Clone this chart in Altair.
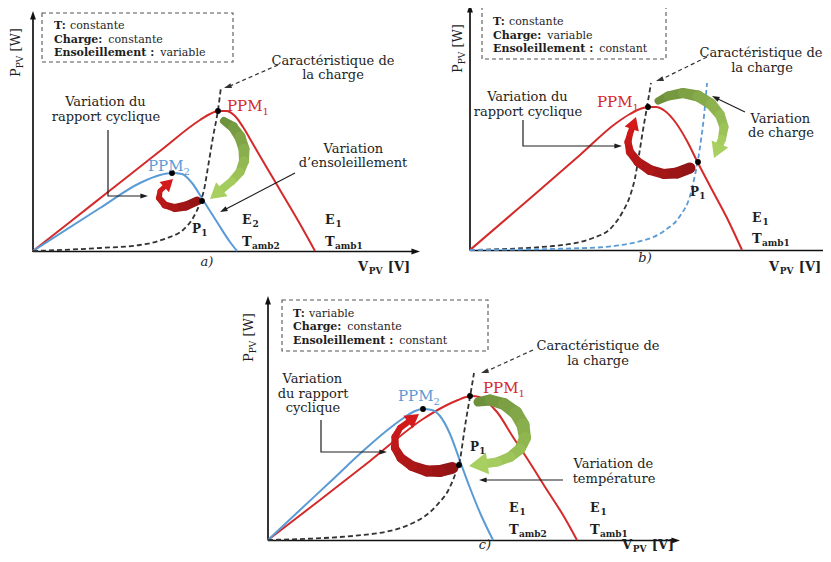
import math
import altair as alt
import pandas as pd

FONT = "DejaVu Serif"
RED = "#d42a2a"
BLUE = "#5b9bd5"
INK = "#1e1e1e"
LOADC = "#333333"

# ---------------- curves (figure canvas coordinates) ----------------
A_RED_X = [33, 70, 108, 160, 200, 210, 218, 226, 235, 243, 253, 267, 280, 300, 315]
A_RED_Y = [251, 222, 192, 151, 120, 114, 111, 111, 116, 127, 144, 168, 190, 224, 251]
A_BLUE_X = [33, 100, 140, 160, 172, 182, 192, 203, 217, 230, 237]
A_BLUE_Y = [251, 208, 183, 175, 173, 174, 183, 200, 222, 242, 251]
A_LOAD_X = [33, 100, 140, 167, 183, 193, 200, 204, 208, 213, 218, 221]
A_LOAD_Y = [251, 248, 245, 238, 230, 218, 203, 190, 167, 137, 110, 87]

B_RED_X = [470, 520, 580, 615, 630, 640, 648, 656, 665, 676, 687, 698, 710, 727, 742]
B_RED_Y = [250, 207, 155, 124, 114, 109, 107, 107, 111, 123, 141, 163, 186, 218, 250]
B_LOAD_X = [470, 553, 593, 612, 622, 630, 635, 639, 643, 647, 651]
B_LOAD_Y = [250, 246, 238, 227, 213, 196, 178, 155, 130, 107, 83]
B_VAR_X = [470, 587, 637, 664, 680, 690, 695, 698, 701, 703, 707]
B_VAR_Y = [250, 248, 242, 231, 216, 196, 175, 160, 140, 125, 83]

C_RED_X = [268, 320, 370, 423, 445, 458, 466, 472, 479, 487, 497, 513, 530, 547, 563, 577]
C_RED_Y = [540, 500, 461, 419, 406, 400, 397, 396, 397, 402, 412, 437, 463, 490, 515, 540]
C_BLUE_X = [268, 300, 330, 363, 390, 405, 415, 423, 432, 440, 450, 460, 470, 481, 493]
C_BLUE_Y = [540, 510, 482, 451, 428, 417, 411, 409, 410, 416, 434, 461, 488, 515, 540]
C_LOAD_X = [268, 363, 413, 437, 450, 456, 460, 463, 466, 470, 474]
C_LOAD_Y = [540, 535, 523, 505, 487, 472, 460, 440, 420, 397, 373]

# operating points (PPM1, PPM2, P1 ...)
DOT_X = [218, 172, 202, 648, 698, 470, 423, 459]
DOT_Y = [111, 173, 201, 107, 162, 396, 409, 465]

# ---------------- thick curved arrows ----------------
A_GREEN = dict(x=[224, 233, 240, 244, 244, 240, 232], y=[121, 127, 137, 149, 161, 172, 181],
               w=[8, 10, 11, 11, 10, 9, 8], tip=(210, 199), head=18, c0="#6a8c38", c1="#a8d060")
A_REDA = dict(x=[197, 186, 175, 165, 159, 160], y=[201, 206, 208, 205, 198, 191],
              w=[9, 9, 8, 7, 6, 5], tip=(173, 179), head=14, c0="#8e1414", c1="#d41a1a")
B_GREEN = dict(x=[658, 668, 683, 698, 711, 720, 724, 722], y=[101, 96, 93, 96, 104, 115, 127, 139],
               w=[7, 9, 10, 11, 11, 10, 9, 8], tip=(714, 158), head=18, c0="#6a8c38", c1="#a8d060")
B_REDA = dict(x=[690, 677, 664, 650, 638, 630, 628, 630], y=[168, 173, 174, 170, 162, 152, 142, 134],
              w=[11, 11, 10, 10, 9, 8, 7, 6], tip=(636, 117), head=15, c0="#8e1414", c1="#d41a1a")
C_GREEN = dict(x=[478, 490, 504, 516, 523, 525, 520, 510, 497], y=[402, 400, 404, 413, 425, 438, 449, 457, 462],
               w=[9, 11, 12, 13, 13, 12, 11, 10, 9], tip=(469, 466), head=22, c0="#6a8c38", c1="#a8d060")
C_REDA = dict(x=[452, 440, 427, 412, 401, 395, 395, 400], y=[468, 471, 471, 466, 458, 448, 437, 428],
              w=[12, 12, 11, 10, 9, 8, 7, 6], tip=(419, 414), head=16, c0="#8e1414", c1="#d41a1a")
THICK = [A_GREEN, A_REDA, B_GREEN, B_REDA, C_GREEN, C_REDA]

# ---------------- thin arrows / axes ----------------
THIN = [  # polyline points, tip
    ([(108, 130), (108, 196), (142, 196)], (148, 196)),
    ([(295, 173), (226, 209)], (220, 212)),
    ([(523, 120), (523, 146), (616, 146)], (622, 146)),
    ([(745, 112), (718, 99)], (712, 96)),
    ([(321, 420), (321, 452), (381, 452)], (387, 452)),
    ([(563, 480), (485, 480)], (479, 480)),
]
DASHED = [
    ([(278, 65), (230, 86)], (224, 88)),
    ([(707, 57), (662, 79)], (656, 81)),
    ([(533, 350), (487, 371)], (481, 373)),
]
AXES = [
    ([(33, 252), (33, 17)], (33, 11)),
    ([(33, 251.5), (414, 251.5)], (420, 251.5)),
    ([(470, 250.5), (470, 10)], (470, 4)),
    ([(470, 250.5), (823, 250.5)], None),
    ([(268, 540.5), (268, 302)], (268, 296)),
    ([(268, 540.5), (674, 540.5)], (680, 540.5)),
]
BOXES = [(42, 13, 233, 62), (482, 7, 666, 59), (282, 300, 488, 351)]

# ---------------- texts ----------------
BOX_LINES = [
    ("T:", "constante", 54, 29), ("Charge:", "constante", 54, 42.5), ("Ensoleillement :", "variable", 54, 56),
    ("T:", "constante", 493, 25), ("Charge:", "variable", 493, 38.5), ("Ensoleillement :", "constant", 493, 52),
    ("T:", "variable", 293, 316.5), ("Charge:", "constante", 293, 330), ("Ensoleillement :", "constant", 293, 343.5),
]
CALLOUTS = [
    ("Caractéristique de", 333, 65), ("la charge", 333, 79),
    ("Variation du", 106, 106), ("rapport cyclique", 106, 121),
    ("Variation", 354, 153), ("d’ensoleillement", 353, 167),
    ("Caractéristique de", 761, 57), ("la charge", 762, 72),
    ("Variation du", 528, 101), ("rapport cyclique", 528, 116),
    ("Variation", 781, 123), ("de charge", 781, 137),
    ("Caractéristique de", 598, 350), ("la charge", 598, 365),
    ("Variation", 313, 383), ("du rapport", 313, 398), ("cyclique", 313, 412),
    ("Variation de", 614, 468), ("température", 614, 483),
]
SUBLABELS = [  # main, sub, x, y, color, weight, main size, sub size, sub drop
    ("PPM", "1", 227, 111, RED, "normal", 15, 10, 4),
    ("PPM", "2", 148, 171, BLUE, "normal", 15, 10, 4),
    ("P", "1", 192, 233, INK, "bold", 12, 9, 3),
    ("E", "2", 242, 224, INK, "bold", 12.5, 9, 3),
    ("T", "amb2", 242, 246, INK, "bold", 13, 9, 3),
    ("E", "1", 325, 224, INK, "bold", 12.5, 9, 3),
    ("T", "amb1", 325, 246, INK, "bold", 13, 9, 3),
    ("PPM", "1", 597, 107, RED, "normal", 15, 10, 4),
    ("P", "1", 690, 196, INK, "bold", 12, 9, 3),
    ("E", "1", 752, 221.5, INK, "bold", 12.5, 9, 3),
    ("T", "amb1", 752, 243, INK, "bold", 13, 9, 3),
    ("PPM", "1", 483, 393, RED, "normal", 15, 10, 4),
    ("PPM", "2", 398, 401, BLUE, "normal", 15, 10, 4),
    ("P", "1", 470, 451, INK, "bold", 12, 9, 3),
    ("E", "1", 509, 511.5, INK, "bold", 12.5, 9, 3),
    ("T", "amb2", 509, 534, INK, "bold", 13, 9, 3),
    ("E", "1", 590, 511.5, INK, "bold", 12.5, 9, 3),
    ("T", "amb1", 590, 534, INK, "bold", 13, 9, 3),
]
X_LABELS = [(358, 271), (769, 271), (622, 549)]
Y_LABELS = [(20, 77), (462, 73), (253, 362)]
PANEL_TAGS = [("a)", 207, 266), ("b)", 645, 262), ("c)", 485, 549)]

# ---------------- helpers ----------------
_W = dict(zip("abcdefghijklmnopqrstuvwxyz",
              [596, 640, 560, 640, 592, 370, 640, 644, 320, 310, 606, 320, 948, 644, 602, 640, 640, 478,
               513, 402, 644, 565, 856, 564, 565, 530]))
_W.update(zip("ABCDEFGHIJKLMNOPQRSTUVWXYZ",
              [722, 735, 765, 802, 730, 694, 799, 872, 395, 401, 747, 664, 1024, 875, 820, 673, 820, 753,
               685, 667, 843, 722, 1028, 712, 660, 695]))
_W.update({c: 636 for c in "0123456789"})
_W.update({" ": 318, ":": 337, "[": 390, "]": 390, "(": 390, ")": 390, "’": 318, "é": 592})


def tw(s, fs, weight):
    return sum(_W.get(c, 600) for c in s) / 1000 * fs * (1.14 if weight == "bold" else 1.0)


texts = []


def layout(parts, x, y, color=INK, align="left", angle=0, style="normal"):
    widths = [tw(t, s, w) for t, s, w, d in parts]
    total = sum(widths)
    pos = {"left": 0, "center": -total / 2, "right": -total}[align]
    for (t, s, w, d), wd in zip(parts, widths):
        lead = tw(t[: len(t) - len(t.lstrip())], s, w)
        p = pos + lead
        if angle == 0:
            tx, ty = x + p, y + d
        else:
            tx, ty = x + d, y - p
        texts.append(dict(x=tx, y=ty, text=t.strip(), size=s, weight=w, style=style, color=color, angle=angle))
        pos += wd


for k, v, x, y in BOX_LINES:
    layout([(k, 11, "bold", 0), (" " + v, 11, "normal", 0)], x, y)
for t, cx, y in CALLOUTS:
    layout([(t, 13, "normal", 0)], cx, y, align="center")
for m, s, x, y, col, w, ms, ss, d in SUBLABELS:
    layout([(m, ms, w, 0), (s, ss, w, d)], x, y, color=col)
for x, y in X_LABELS:
    layout([("V", 13, "bold", 0), ("PV", 9, "bold", 3), (" [V]", 13, "bold", 0)], x, y)
for x, y in Y_LABELS:
    layout([("P", 13, "normal", 0), ("PV", 9, "normal", 3), (" [W]", 13, "normal", 0)], x, y, angle=270)
for t, cx, y in PANEL_TAGS:
    layout([(t, 13, "normal", 0)], cx, y, align="center", style="italic")
text_df = pd.DataFrame(texts)


def head(tip, prev, width):
    dx, dy = tip[0] - prev[0], tip[1] - prev[1]
    L = math.hypot(dx, dy)
    ux, uy = dx / L, dy / L
    r = width / 2
    return dict(x=tip[0] - ux * r, y=tip[1] - uy * r, angle=math.degrees(math.atan2(ux, -uy)) % 360,
                size=(2 * r) ** 2), (ux, uy, r)


def lerp(c0, c1, t):
    a = [int(c0[i:i + 2], 16) for i in (1, 3, 5)]
    b = [int(c1[i:i + 2], 16) for i in (1, 3, 5)]
    return "#" + "".join(f"{round(p + (q - p) * t):02x}" for p, q in zip(a, b))


# curves
curve_rows = []
for key, xs, ys, col, dash in [("ar", A_RED_X, A_RED_Y, RED, 0), ("ab", A_BLUE_X, A_BLUE_Y, BLUE, 0),
                               ("br", B_RED_X, B_RED_Y, RED, 0), ("cr", C_RED_X, C_RED_Y, RED, 0),
                               ("cb", C_BLUE_X, C_BLUE_Y, BLUE, 0),
                               ("al", A_LOAD_X, A_LOAD_Y, LOADC, 1), ("bl", B_LOAD_X, B_LOAD_Y, LOADC, 1),
                               ("bv", B_VAR_X, B_VAR_Y, BLUE, 1), ("cl", C_LOAD_X, C_LOAD_Y, LOADC, 1)]:
    for i, (x, y) in enumerate(zip(xs, ys)):
        curve_rows.append(dict(key=key, i=i, x=x, y=y, color=col, dash=dash))
curves = pd.DataFrame(curve_rows)

# thick arrows
trail_rows, bighead_rows = [], []
for n, a in enumerate(THICK):
    pts = list(zip(a["x"], a["y"], a["w"]))
    h, (ux, uy, r) = head(a["tip"], pts[-1][:2], a["head"])
    h["color"] = a["c1"]
    bighead_rows.append(h)
    pts.append((a["tip"][0] - ux * 1.3 * r, a["tip"][1] - uy * 1.3 * r, a["w"][-1]))
    m = len(pts) - 1
    for j in range(m):
        col = lerp(a["c0"], a["c1"], (j + 0.5) / m)
        for k in (0, 1):
            trail_rows.append(dict(seg=f"{n}-{j}", i=k, x=pts[j + k][0], y=pts[j + k][1], w=pts[j + k][2],
                                   color=col))
trails = pd.DataFrame(trail_rows)
bigheads = pd.DataFrame(bighead_rows)

# thin lines + heads
line_rows, small_heads = [], []
for group, items, col in [("thin", THIN, INK), ("dash", DASHED, LOADC), ("axis", AXES, "#111111")]:
    for n, (pts, tip) in enumerate(items):
        for i, (x, y) in enumerate(pts):
            line_rows.append(dict(key=f"{group}{n}", group=group, i=i, x=x, y=y))
        if tip is not None:
            hh, _ = head(tip, pts[-1], 9 if group == "axis" else 8)
            hh["color"] = col
            small_heads.append(hh)
lines = pd.DataFrame(line_rows)
heads_small = pd.DataFrame(small_heads)

boxes = pd.DataFrame([dict(x=a, y=b, x2=c, y2=d) for a, b, c, d in BOXES])
dots = pd.DataFrame(dict(x=DOT_X, y=DOT_Y))

# ---------------- chart ----------------
X = alt.X("x:Q", scale=alt.Scale(domain=[8, 823], nice=False, zero=False), axis=None)
Y = alt.Y("y:Q", scale=alt.Scale(domain=[8, 554], nice=False, zero=False, reverse=True), axis=None)
NOCOL = alt.Color("color:N", scale=None)

layers = []
layers.append(alt.Chart(boxes).mark_rect(fillOpacity=0, stroke="#555555", strokeWidth=1.1,
                                         strokeDash=[4, 3]).encode(x=X, y=Y, x2="x2:Q", y2="y2:Q"))
layers.append(alt.Chart(lines[lines.group == "axis"]).mark_line(color="#111111", strokeWidth=1.7).encode(
    x=X, y=Y, detail="key:N", order="i:Q"))
layers.append(alt.Chart(curves[curves.dash == 0]).mark_line(strokeWidth=2, interpolate="monotone").encode(
    x=X, y=Y, color=NOCOL, detail="key:N", order="i:Q"))
layers.append(alt.Chart(curves[curves.dash == 1]).mark_line(strokeWidth=1.8, strokeDash=[5, 3],
                                                            interpolate="monotone").encode(
    x=X, y=Y, color=NOCOL, detail="key:N", order="i:Q"))
layers.append(alt.Chart(trails).mark_trail().encode(
    x=X, y=Y, size=alt.Size("w:Q", scale=None), color=NOCOL, detail="seg:N", order="i:Q"))
layers.append(alt.Chart(bigheads).mark_point(shape="M0,-1L1,0.7L-1,0.7Z", filled=True, opacity=1,
                                             strokeWidth=0).encode(
    x=X, y=Y, size=alt.Size("size:Q", scale=None), angle=alt.Angle("angle:Q", scale=None), color=NOCOL))
layers.append(alt.Chart(lines[lines.group == "thin"]).mark_line(color=INK, strokeWidth=1.2).encode(
    x=X, y=Y, detail="key:N", order="i:Q"))
layers.append(alt.Chart(lines[lines.group == "dash"]).mark_line(color=LOADC, strokeWidth=1.2,
                                                                strokeDash=[4, 3]).encode(
    x=X, y=Y, detail="key:N", order="i:Q"))
layers.append(alt.Chart(heads_small).mark_point(shape="M0,-1L0.65,0.9L-0.65,0.9Z", filled=True, opacity=1,
                                                strokeWidth=0).encode(
    x=X, y=Y, size=alt.Size("size:Q", scale=None), angle=alt.Angle("angle:Q", scale=None), color=NOCOL))
layers.append(alt.Chart(dots).mark_circle(size=34, color="black", opacity=1).encode(x=X, y=Y))

for (w, s), sub in text_df.groupby(["weight", "style"]):
    layers.append(alt.Chart(sub).mark_text(font=FONT, fontWeight=w, fontStyle=s, align="left",
                                           baseline="alphabetic").encode(
        x=X, y=Y, text="text:N", size=alt.Size("size:Q", scale=None), color=NOCOL,
        angle=alt.Angle("angle:Q", scale=None)))

chart = alt.layer(*layers).properties(width=815, height=546, padding=0, autosize="none",
                                      background="white").configure_view(stroke=None)
chart.save("out.html", embed_options={"renderer": "svg", "actions": False})
